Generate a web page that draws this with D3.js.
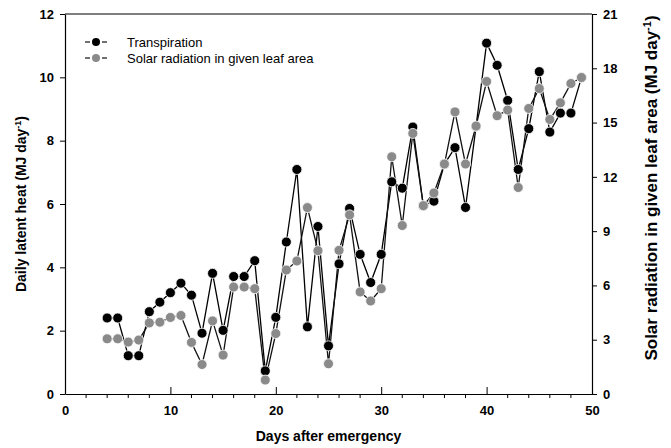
<!DOCTYPE html>
<html>
<head>
<meta charset="utf-8">
<script src="https://cdn.jsdelivr.net/npm/d3@7"></script>
<style>
  html, body { margin: 0; padding: 0; background: #fff; }
  svg { display: block; font-family: "Liberation Sans", Arial, sans-serif; }
</style>
</head>
<body>
<svg id="chart" width="671" height="448"></svg>
<script>
// Days after emergency
const days = [4,5,6,7,8,9,10,11,12,13,14,15,16,17,18,19,20,21,22,23,24,25,26,
  27,28,29,30,31,32,33,34,35,36,37,38,39,40,41,42,43,44,45,46,47,48,49];

// Daily latent heat of transpiration (MJ day-1), left axis
const transpiration = [2.40,2.40,1.21,1.21,2.60,2.90,3.20,3.50,3.12,1.92,3.81,2.01,
  3.71,3.71,4.21,0.73,2.42,4.80,7.09,2.12,5.29,1.52,4.11,5.86,4.41,3.52,4.41,
  6.70,6.50,8.43,5.94,6.09,7.26,7.78,5.89,8.45,11.08,10.38,9.27,7.09,8.38,
  10.18,8.27,8.87,8.87,9.99];

// Solar radiation in given leaf area (MJ day-1), right axis
const solar = [3.05,3.05,2.87,2.98,3.93,3.97,4.23,4.34,2.85,1.63,4.04,2.15,5.91,
  5.91,5.82,0.77,3.34,6.85,7.35,10.30,7.92,1.67,7.94,9.90,5.64,5.14,5.82,13.11,
  9.31,14.40,10.41,11.11,12.71,15.59,12.71,14.81,17.27,15.38,15.69,11.41,15.78,
  16.88,15.17,16.09,17.16,17.49];

const xTicks = [0,10,20,30,40,50];
const leftTicks = [0,2,4,6,8,10,12];
const rightTicks = [0,3,6,9,12,15,18,21];

const svg = d3.select("#chart");
const plot = { left: 65, right: 592, top: 14, bottom: 394 };

const x = d3.scaleLinear().domain([0, 50]).range([plot.left, plot.right]);
const yL = d3.scaleLinear().domain([0, 12]).range([plot.bottom, plot.top]);
const yR = d3.scaleLinear().domain([0, 21]).range([plot.bottom, plot.top]);

// frame: top border line
svg.append("line")
  .attr("x1", plot.left).attr("x2", plot.right)
  .attr("y1", plot.top).attr("y2", plot.top)
  .attr("stroke", "#000").attr("stroke-width", 1.2);

// left axis
const gL = svg.append("g").attr("transform", `translate(${plot.left},0)`)
  .call(d3.axisLeft(yL).tickValues(leftTicks).tickSize(5).tickPadding(6).tickSizeOuter(0));
// right axis
const gR = svg.append("g").attr("transform", `translate(${plot.right},0)`)
  .call(d3.axisRight(yR).tickValues(rightTicks).tickSize(5).tickPadding(6).tickSizeOuter(0));
// bottom axis: labelled major ticks drawn inward, minor ticks outward
const gB = svg.append("g").attr("transform", `translate(0,${plot.bottom})`)
  .call(d3.axisBottom(x).tickValues(xTicks).tickSize(-7).tickPadding(12).tickSizeOuter(0));
gB.selectAll(".minor").data(d3.range(2, 50, 2).filter(d => d % 10 !== 0))
  .enter().append("line").attr("class", "minor")
  .attr("x1", d => x(d)).attr("x2", d => x(d))
  .attr("y1", 0).attr("y2", 4)
  .attr("stroke", "#000").attr("stroke-width", 1);

[gL, gR, gB].forEach(g => {
  g.select(".domain").attr("stroke", "#000").attr("stroke-width", 1.2);
  g.selectAll(".tick line").attr("stroke", "#000").attr("stroke-width", 1);
  g.selectAll(".tick text").attr("fill", "#000")
    .style("font-size", "13px").style("font-weight", "bold")
    .style("font-family", "'Liberation Sans', Arial, sans-serif");
});

// series lines
const lineT = d3.line().x((d, i) => x(days[i])).y(d => yL(d));
const lineS = d3.line().x((d, i) => x(days[i])).y(d => yR(d));

svg.append("path").datum(transpiration).attr("d", lineT)
  .attr("fill", "none").attr("stroke", "#000").attr("stroke-width", 1.3);
svg.append("path").datum(solar).attr("d", lineS)
  .attr("fill", "none").attr("stroke", "#111").attr("stroke-width", 1.3);

// markers
const R = 5;
svg.append("g").selectAll("circle").data(transpiration).enter().append("circle")
  .attr("cx", (d, i) => x(days[i])).attr("cy", d => yL(d)).attr("r", R)
  .attr("fill", "#000").attr("stroke", "#fff").attr("stroke-width", 0.8);
svg.append("g").selectAll("circle").data(solar).enter().append("circle")
  .attr("cx", (d, i) => x(days[i])).attr("cy", d => yR(d)).attr("r", R)
  .attr("fill", "#8a8a8a").attr("stroke", "#fff").attr("stroke-width", 0.8);

// legend
const legend = [
  { label: "Transpiration", color: "#000", y: 42 },
  { label: "Solar radiation in given leaf area", color: "#8a8a8a", y: 58 }
];
const lg = svg.append("g");
legend.forEach(item => {
  lg.append("line").attr("x1", 85).attr("x2", 90).attr("y1", item.y).attr("y2", item.y)
    .attr("stroke", "#222").attr("stroke-width", 1.3);
  lg.append("line").attr("x1", 102).attr("x2", 107).attr("y1", item.y).attr("y2", item.y)
    .attr("stroke", "#222").attr("stroke-width", 1.3);
  lg.append("circle").attr("cx", 96).attr("cy", item.y).attr("r", 4).attr("fill", item.color);
  lg.append("text").attr("x", 127).attr("y", item.y + 4.5)
    .style("font-size", "13px").attr("fill", "#000").text(item.label);
});

// axis titles
svg.append("text")
  .attr("x", (plot.left + plot.right) / 2).attr("y", 441)
  .attr("text-anchor", "middle")
  .style("font-size", "14px").style("font-weight", "bold")
  .text("Days after emergency");

const tL = svg.append("text")
  .attr("transform", `translate(26,${(plot.top + plot.bottom) / 2}) rotate(-90)`)
  .attr("text-anchor", "middle")
  .style("font-size", "14px").style("font-weight", "bold");
tL.append("tspan").text("Daily latent heat  (MJ day");
tL.append("tspan").attr("dy", -5).style("font-size", "9px").text("-1");
tL.append("tspan").attr("dy", 5).text(")");

const tR = svg.append("text")
  .attr("transform", `translate(657,188) rotate(-90)`)
  .attr("text-anchor", "middle")
  .style("font-size", "17px").style("font-weight", "bold");
tR.append("tspan").text("Solar radiation in given leaf area (MJ day");
tR.append("tspan").attr("dy", -6).style("font-size", "11px").text("-1");
tR.append("tspan").attr("dy", 6).text(")");
</script>
</body>
</html>
